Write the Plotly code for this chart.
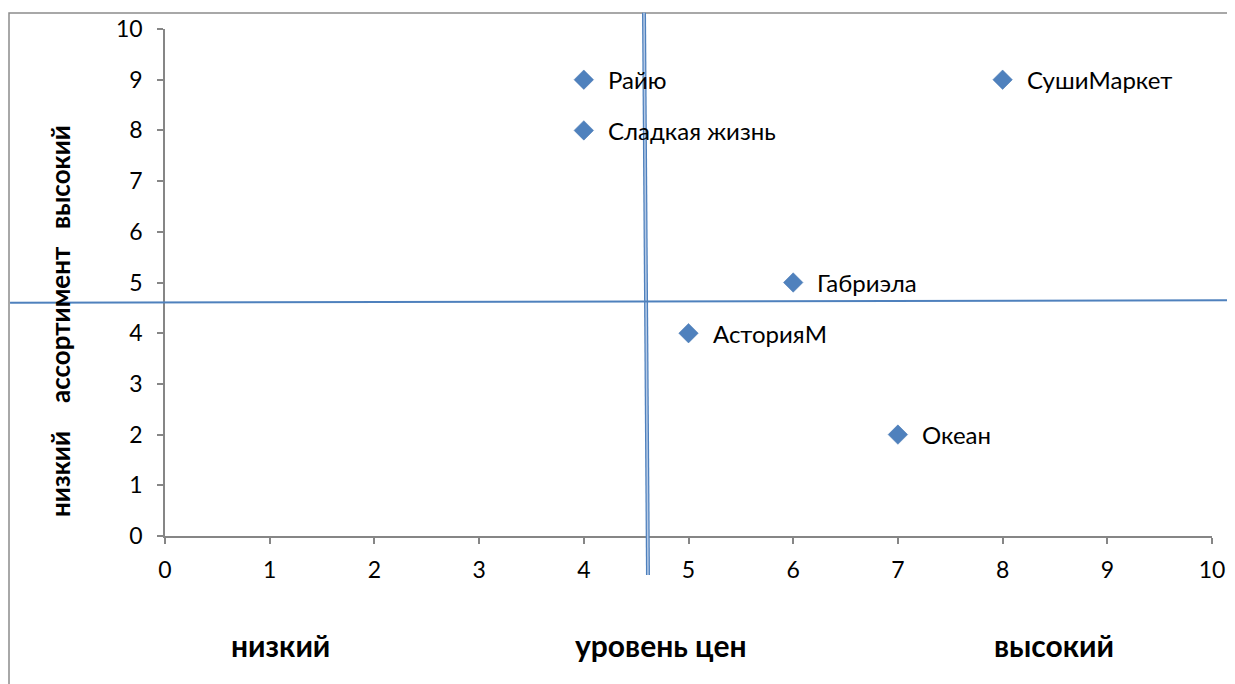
import plotly.graph_objects as go

# Data
names = ["Райю", "Сладкая жизнь", "СушиМаркет", "Габриэла", "АсторияМ", "Океан"]
price = [4, 4, 8, 6, 5, 7]
assortment = [9, 8, 9, 5, 4, 2]

# dividing lines (data units)
vline_x = [4.575, 4.613]
vline_y = [10.32, -0.77]
hline_x = [-1.48, 10.25]
hline_y = [4.6, 4.65]

x_ticks = list(range(0, 11))
y_ticks = list(range(0, 11))

FONT = "Lato"
BLUE = "#4F81BD"
GRAY = "#868686"

# page body margin offset (8px default)
OFF = 8
W, H = 1235 - OFF, 684 - OFF
L, R, T, B = 165 - OFF, 23, 29 - OFF, 148

fig = go.Figure()
fig.add_trace(go.Scatter(
    x=price, y=assortment, mode="markers",
    marker=dict(symbol="diamond", size=15, color=BLUE,
                line=dict(color="#4575b0", width=0.5)),
    cliponaxis=False, showlegend=False, hoverinfo="skip"))

XMIN, XMAX, YMIN, YMAX = 0, 10, 0, 10
def px(v):
    return (v - XMIN) / (XMAX - XMIN)
def py(v):
    return (v - YMIN) / (YMAX - YMIN)

PW = W - L - R
PH = H - T - B
def ppx(page_x):
    return (page_x - OFF - L) / PW
def ppy(page_y):
    return (H - B - (page_y - OFF)) / PH

shapes = []
# outer chart border
shapes.append(dict(type="rect", xref="paper", yref="paper",
                   x0=ppx(9), x1=ppx(1300), y0=ppy(760), y1=ppy(13),
                   line=dict(color="#8c8c8c", width=1.5), fillcolor="rgba(0,0,0,0)", layer="below"))
# vertical double line
shapes.append(dict(type="line", xref="paper", yref="paper",
                   x0=px(vline_x[0]), y0=py(vline_y[0]), x1=px(vline_x[1]), y1=py(vline_y[1]),
                   line=dict(color=BLUE, width=4)))
shapes.append(dict(type="line", xref="paper", yref="paper",
                   x0=px(vline_x[0]), y0=py(vline_y[0]), x1=px(vline_x[1]), y1=py(vline_y[1]),
                   line=dict(color="#b4c9e6", width=1.5)))
# horizontal line
shapes.append(dict(type="line", xref="paper", yref="paper",
                   x0=px(hline_x[0]), y0=py(hline_y[0]), x1=px(hline_x[1]), y1=py(hline_y[1]),
                   line=dict(color=BLUE, width=2)))

annotations = []
for n, xv, yv in zip(names, price, assortment):
    annotations.append(dict(x=xv, y=yv, xref="x", yref="y", text=n, showarrow=False,
                            xanchor="left", yanchor="middle", xshift=22,
                            font=dict(family=FONT, size=24, color="#000")))

# x-axis titles
for txt, xp in [("<b>низкий</b>", 280), ("<b>уровень цен</b>", 661), ("<b>высокий</b>", 1054)]:
    annotations.append(dict(x=ppx(xp), y=ppy(645), xref="paper", yref="paper",
                            text=txt, showarrow=False, xanchor="center", yanchor="middle",
                            font=dict(family=FONT, size=30, color="#000")))
# y-axis titles
for txt, yp in [("<b>низкий</b>", 474), ("<b>ассортимент</b>", 325), ("<b>высокий</b>", 177)]:
    annotations.append(dict(x=ppx(60), y=ppy(yp), xref="paper", yref="paper",
                            text=txt, showarrow=False, textangle=-90,
                            xanchor="center", yanchor="middle",
                            font=dict(family=FONT, size=26, color="#000")))

axis_common = dict(range=[0, 10], showgrid=False, zeroline=False, showline=True,
                   linecolor=GRAY, linewidth=1.5, ticks="outside", tickcolor=GRAY,
                   ticklen=6, tickwidth=1.5, automargin=False,
                   tickfont=dict(family=FONT, size=23, color="#000"))

fig.update_layout(
    width=W, height=H,
    margin=dict(l=L, r=R, t=T, b=B),
    paper_bgcolor="white", plot_bgcolor="white",
    xaxis=dict(**axis_common, tickvals=x_ticks, ticklabelstandoff=7),
    yaxis=dict(**axis_common, tickvals=y_ticks, ticklabelstandoff=10),
    shapes=shapes, annotations=annotations,
)

fig.write_html("out.html")
